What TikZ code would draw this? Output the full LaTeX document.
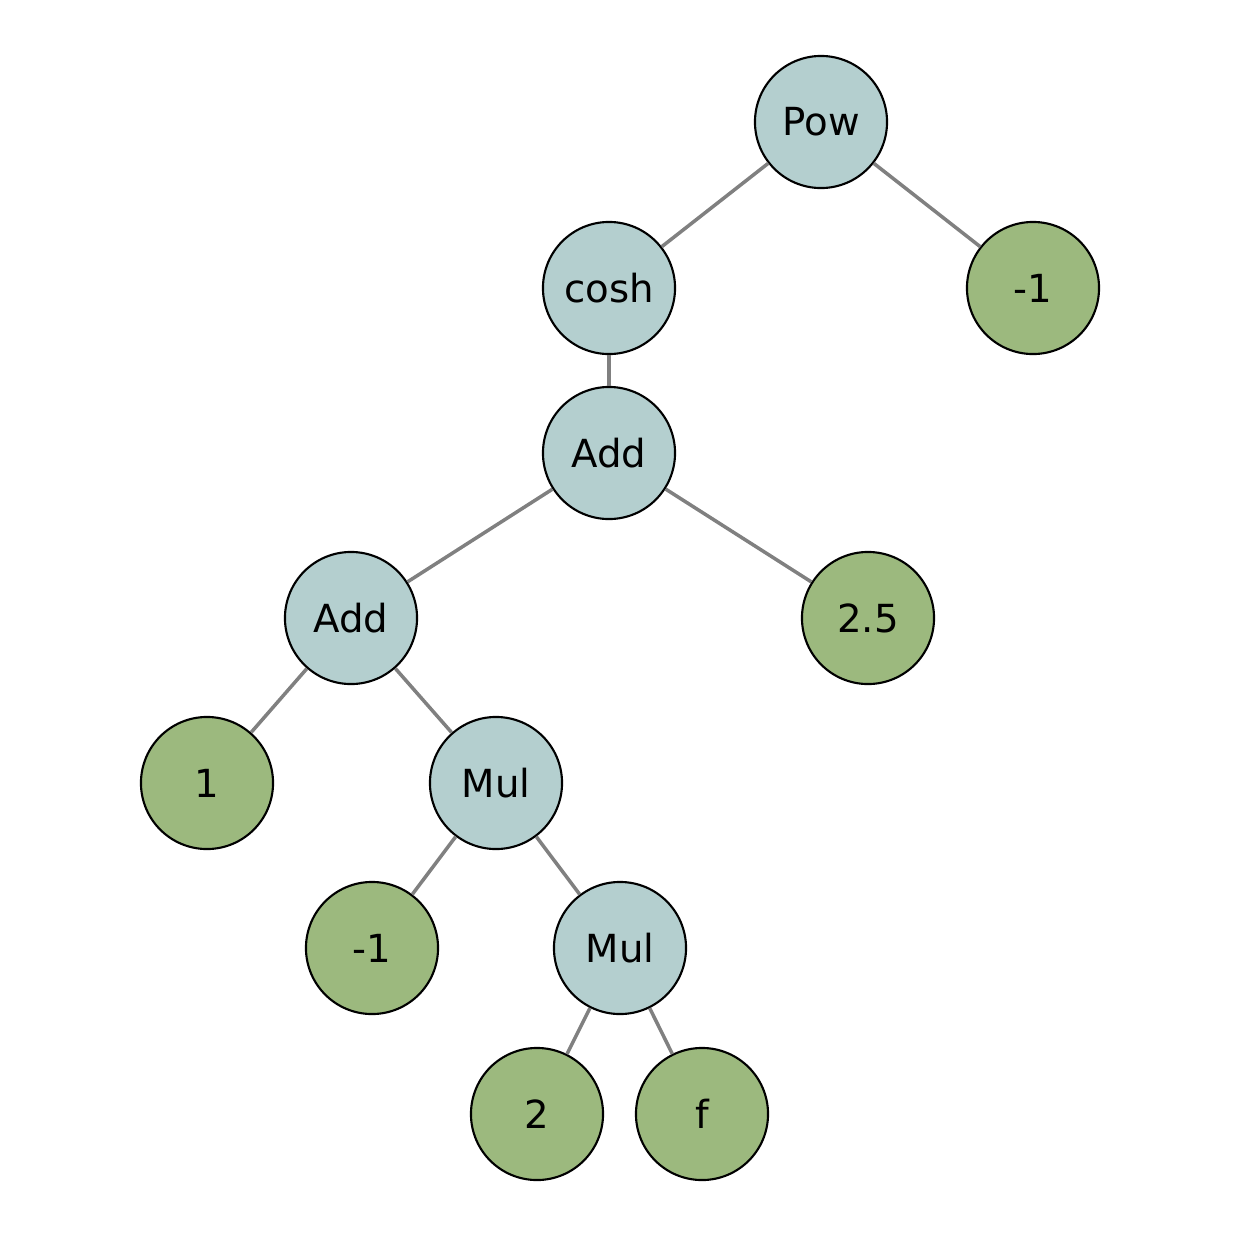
\documentclass[tikz,border=0pt]{standalone}
\usepackage{fontspec}
\setmainfont{DejaVu Sans}
\begin{document}
\begin{tikzpicture}[x=0.01cm,y=-0.01cm,
  op/.style={circle,draw=black,line width=0.6pt,fill=opcol,minimum size=1.32cm,inner sep=0pt,font=\fontsize{11}{13}\selectfont},
  leaf/.style={circle,draw=black,line width=0.6pt,fill=leafcol,minimum size=1.32cm,inner sep=0pt,font=\fontsize{11}{13}\selectfont},
  edge/.style={draw=gray,line width=1pt}]
\definecolor{opcol}{HTML}{B4CFCF}
\definecolor{leafcol}{HTML}{9CB97E}
\useasboundingbox (0,0) rectangle (1239,1239);
\node[op] (pow) at (821,122) {Pow};
\node[op] (cosh) at (609,288) {cosh};
\node[leaf] (m1a) at (1033,288) {-1};
\node[op] (add1) at (609,453) {Add};
\node[op] (add2) at (351,618) {Add};
\node[leaf] (c25) at (868,618) {2.5};
\node[leaf] (one) at (207,783) {1};
\node[op] (mul1) at (496,783) {Mul};
\node[leaf] (m1b) at (372,948) {-1};
\node[op] (mul2) at (620,948) {Mul};
\node[leaf] (two) at (537,1114) {2};
\node[leaf] (f) at (702,1114) {f};
\draw[edge] (pow) -- (cosh);
\draw[edge] (pow) -- (m1a);
\draw[edge] (cosh) -- (add1);
\draw[edge] (add1) -- (add2);
\draw[edge] (add1) -- (c25);
\draw[edge] (add2) -- (one);
\draw[edge] (add2) -- (mul1);
\draw[edge] (mul1) -- (m1b);
\draw[edge] (mul1) -- (mul2);
\draw[edge] (mul2) -- (two);
\draw[edge] (mul2) -- (f);
\end{tikzpicture}
\end{document}
